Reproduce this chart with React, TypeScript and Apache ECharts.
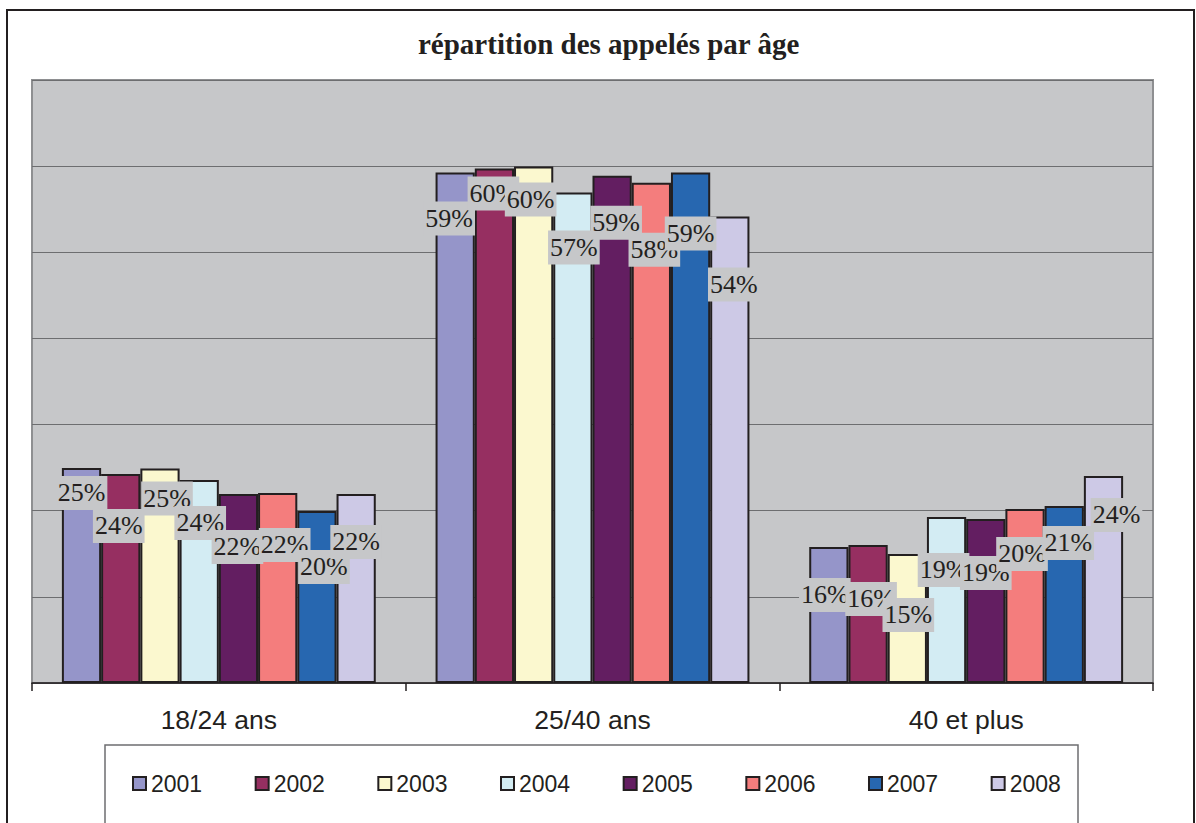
import React, { useEffect, useRef } from "react";
import * as echarts from "echarts";

const TITLE = "répartition des appelés par âge";
const categories = ["18/24 ans", "25/40 ans", "40 et plus"];
const years = ["2001", "2002", "2003", "2004", "2005", "2006", "2007", "2008"];

const v2001 = [24.97, 59.27, 15.8];
const v2002 = [24.27, 59.73, 16.03];
const v2003 = [24.89, 59.96, 14.98];
const v2004 = [23.58, 56.95, 19.28];
const v2005 = [21.95, 58.88, 19.05];
const v2006 = [22.07, 58.07, 20.21];
const v2007 = [19.98, 59.27, 20.56];
const v2008 = [21.95, 54.16, 24.04];
const seriesValues = [v2001, v2002, v2003, v2004, v2005, v2006, v2007, v2008];

const colors = ["#9595c9", "#962f61", "#fbf8cf", "#d3ecf3", "#631e61", "#f47d7d", "#2767b0", "#cdc9e6"];

// label nudges (layout only): [dx, dy from bar top to label centre] per year, per category
const labelNudge = [
  [[0, 25], [-6, 46], [-4, 48]],
  [[-2, 52], [-1, 25], [3, 54]],
  [[7, 30], [-3, 33], [1, 61]],
  [[1, 43], [1, 55], [-3, 53]],
  [[-1, 53], [4, 47], [0, 54]],
  [[7, 52], [3, 67], [-3, 45]],
  [[7, 56], [0, 61], [4, 37]],
  [[0, 48], [4, 68], [13, 39]],
];

const SERIF = "'Liberation Serif', 'Times New Roman', serif";
const SANS = "'Liberation Sans', Arial, sans-serif";

export default function App() {
  const ref = useRef<HTMLDivElement>(null);
  useEffect(() => {
    if (!ref.current) return;
    const chart = echarts.init(ref.current, null, { renderer: "svg" });
    const labelBase = {
      show: true,
      formatter: (p: any) => Math.round(p.value) + "%",
      fontFamily: SERIF,
      fontSize: 26,
      fontWeight: "normal",
      color: "#231f20",
      backgroundColor: "#c6c7c9",
      padding: [5, 2, 3, 2],
      align: "center",
      verticalAlign: "middle",
    };
    const series = years.map((y, si) => ({
      name: y,
      type: "bar",
      barGap: "0%",
      barCategoryGap: "16%",
      itemStyle: { color: colors[si], borderColor: "#231f20", borderWidth: 2 },
      label: labelBase,
      data: seriesValues[si].map((v, ci) => ({
        value: v,
        label: {
          ...labelBase,
          position: ["50%", labelNudge[si][ci][1]],
          offset: [labelNudge[si][ci][0], 0],
        },
      })),
    }));
    chart.setOption({
      animation: false,
      backgroundColor: "#ffffff",
      title: {
        text: TITLE,
        left: 413,
        top: 24,
        textStyle: {
          fontFamily: SERIF,
          fontWeight: "bold",
          fontSize: 29,
          color: "#231f20",
        },
      },
      grid: {
        left: 32,
        right: 43,
        top: 80,
        bottom: 140,
        show: true,
        backgroundColor: "#c6c7c9",
        borderColor: "#8e8f91",
        borderWidth: 2,
      },
      legend: {
        left: 127,
        top: 767,
        itemWidth: 13,
        itemHeight: 13,
        itemGap: 52.5,
        icon: "rect",
        textStyle: {
          fontFamily: SANS,
          fontSize: 23,
          color: "#231f20",
        },
        data: years,
      },
      xAxis: {
        type: "category",
        data: categories,
        axisLine: { lineStyle: { color: "#231f20", width: 1.5 } },
        axisTick: { show: true, length: 8, lineStyle: { color: "#231f20", width: 1.5 } },
        axisLabel: {
          fontFamily: SANS,
          fontSize: 26.5,
          color: "#231f20",
          margin: 23,
        },
      },
      yAxis: {
        type: "value",
        min: 0,
        max: 70,
        interval: 10,
        axisLabel: { show: false },
        axisLine: { show: false },
        axisTick: { show: false },
        splitLine: { lineStyle: { color: "#6d6e70", width: 1.2 } },
      },
      graphic: [
        {
          type: "rect",
          shape: { x: 7, y: 10, width: 1187, height: 900 },
          style: { fill: "none", stroke: "#231f20", lineWidth: 2 },
          silent: true,
        },
        {
          type: "rect",
          shape: { x: 105, y: 745, width: 973, height: 120 },
          style: { fill: "none", stroke: "#6d6e70", lineWidth: 1.5 },
          silent: true,
        },
      ],
      series,
    });
    return () => chart.dispose();
  }, []);
  return (
    <div
      ref={ref}
      style={{ position: "fixed", left: 0, top: 0, width: 1196, height: 823 }}
    />
  );
}
